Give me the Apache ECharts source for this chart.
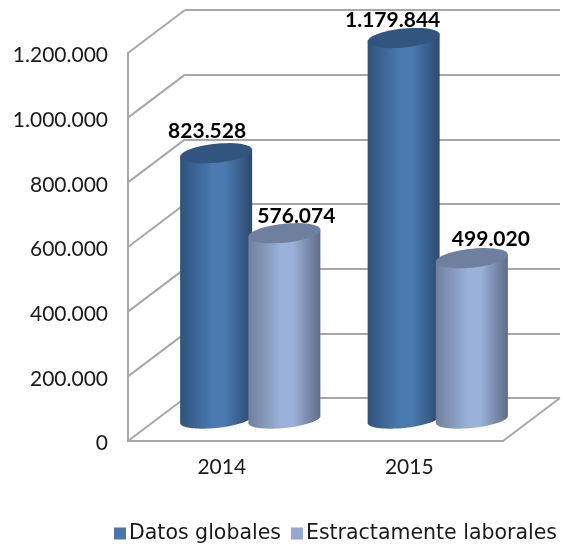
<!DOCTYPE html>
<html><head><meta charset="utf-8">
<style>html,body{margin:0;padding:0;background:#fff}#c{width:564px;height:544px}</style>
<script src="https://cdn.jsdelivr.net/npm/echarts@6/dist/echarts.min.js"></script>
</head><body><div id="c"></div>
<script>
const categories = ['2014', '2015'];
const seriesNames = ['Datos globales', 'Estractamente laborales'];
const datosGlobales = [823528, 1179844];
const estrictamenteLaborales = [576074, 499020];
const wallTicks = [0, 200000, 400000, 600000, 800000, 1000000, 1200000];
const labelNudgeA = [[-9, -22], [-11, -18]];
const labelNudgeB = [[12, -17], [19, -19]];

const FONT = 'Lato';
const LEGEND_FONT = '"DejaVu Sans"';
const LINE = '#a8a8a8';
const F = {left: 128, top: 53, width: 375, height: 388};
const DX = 57, DY = -43;
const fmt = v => String(v).replace(/\B(?=(\d{3})+(?!\d))/g, '.');

function ellipsePts(cx, cy, a, b, k, from, to) {
  const pts = [];
  for (let i = 0; i <= 48; i++) {
    const t = from + (to - from) * i / 48;
    pts.push([cx + a * Math.cos(t), cy + b * Math.sin(t) - k * Math.cos(t)]);
  }
  return pts;
}

function cylinder(side, edgeL, mid, edgeR, topFill, nudges) {
  return function (params, api) {
    const cat = api.value(0), val = api.value(1);
    const band = api.size([1, 0])[0];
    const top = api.coord([cat, val]);
    const base = api.coord([cat, 0]);
    const cx = top[0] + side * band * 0.182;
    const a = band * 0.192, b = 8.5, k = 3.5;
    const lower = ellipsePts(cx, base[1], a, b, k, 0, Math.PI);
    const body = [[cx + a, top[1] - k]].concat(lower, [[cx - a, top[1] + k]]);
    const n = nudges[params.dataIndex];
    return {type: 'group', children: [
      {type: 'polygon', shape: {points: body}, style: {fill: {type: 'linear', x: 0, y: 0, x2: 1, y2: 0, colorStops: [
        {offset: 0, color: edgeL}, {offset: 0.45, color: mid}, {offset: 0.62, color: mid}, {offset: 1, color: edgeR}]}}},
      {type: 'polygon', shape: {points: ellipsePts(cx, top[1], a, 9.5, k, 0, Math.PI * 2)}, style: {fill: topFill}},
      {type: 'text', style: {x: cx + n[0], y: top[1] + n[1], text: fmt(val), align: 'center', verticalAlign: 'middle',
        fill: '#000', font: 'bold 21px ' + FONT}}
    ]};
  };
}

function frame(params, api) {
  const v = api.value(0);
  const cs = params.coordSys;
  const p = api.coord([0, v]);
  const x0 = cs.x;
  const kids = [{type: 'line', shape: {x1: x0, y1: p[1], x2: x0 + DX, y2: p[1] + DY}, style: {stroke: LINE, lineWidth: 2}}];
  if (v === 0) {
    kids.push({type: 'line', shape: {x1: cs.x + cs.width, y1: p[1], x2: cs.x + cs.width + DX, y2: p[1] + DY}, style: {stroke: LINE, lineWidth: 2}});
  }
  return {type: 'group', children: kids};
}

const chart = echarts.init(document.getElementById('c'), null, {renderer: 'canvas'});
chart.setOption({
  animation: false,
  backgroundColor: '#fff',
  textStyle: {fontFamily: FONT},
  grid: [
    {left: F.left, top: F.top, width: F.width, height: F.height},
    {left: F.left + DX, top: F.top + DY, width: F.width, height: F.height},
    {left: F.left + DX / 2, top: F.top + DY / 2, width: F.width, height: F.height}
  ],
  xAxis: [
    {gridIndex: 0, type: 'category', data: categories, axisTick: {show: false},
     axisLine: {lineStyle: {color: LINE, width: 2}}, axisLabel: {color: '#1a1a1a', fontSize: 21, margin: 16, fontFamily: FONT}},
    {gridIndex: 1, type: 'category', data: categories, show: false},
    {gridIndex: 2, type: 'category', data: categories, show: false}
  ],
  yAxis: [
    {gridIndex: 0, type: 'value', min: 0, max: 1200000, interval: 200000, splitLine: {show: false},
     axisTick: {show: false}, axisLine: {show: true, lineStyle: {color: LINE, width: 2}},
     axisLabel: {color: '#1a1a1a', fontSize: 21, margin: 20, fontFamily: FONT, formatter: fmt, verticalAlign: 'top', lineHeight: 5}},
    {gridIndex: 1, type: 'value', min: 0, max: 1200000, interval: 200000, axisLabel: {show: false},
     axisTick: {show: false}, axisLine: {show: false}, splitLine: {lineStyle: {color: LINE, width: 2}}},
    {gridIndex: 2, type: 'value', min: 0, max: 1200000, interval: 200000, show: false, splitLine: {show: false}}
  ],
  legend: {
    data: seriesNames, left: 109, top: 518, icon: 'rect', itemWidth: 12, itemHeight: 12, itemGap: 10,
    textStyle: {color: '#1a1a1a', fontSize: 20.5, fontFamily: LEGEND_FONT, padding: [0, 0, 0, -2]}
  },
  series: [
    {type: 'custom', name: 'frame', xAxisIndex: 0, yAxisIndex: 0, clip: false, z: 1, silent: true,
     data: wallTicks.map(v => [v]), encode: {y: 0}, renderItem: frame},
    {type: 'custom', name: seriesNames[0], xAxisIndex: 2, yAxisIndex: 2, clip: false, z: 3, itemStyle: {color: '#4a76aa'},
     data: datosGlobales.map((v, i) => [i, v]), encode: {x: 0, y: 1},
     renderItem: cylinder(-1, '#2f527c', '#4a7ab0', '#2c4a6e', '#31557f', labelNudgeA)},
    {type: 'custom', name: seriesNames[1], xAxisIndex: 2, yAxisIndex: 2, clip: false, z: 4, itemStyle: {color: '#93a9d3'},
     data: estrictamenteLaborales.map((v, i) => [i, v]), encode: {x: 0, y: 1},
     renderItem: cylinder(1, '#717f9c', '#9ab1da', '#5f6d88', '#6e7fa0', labelNudgeB)}
  ]
});
</script></body></html>
